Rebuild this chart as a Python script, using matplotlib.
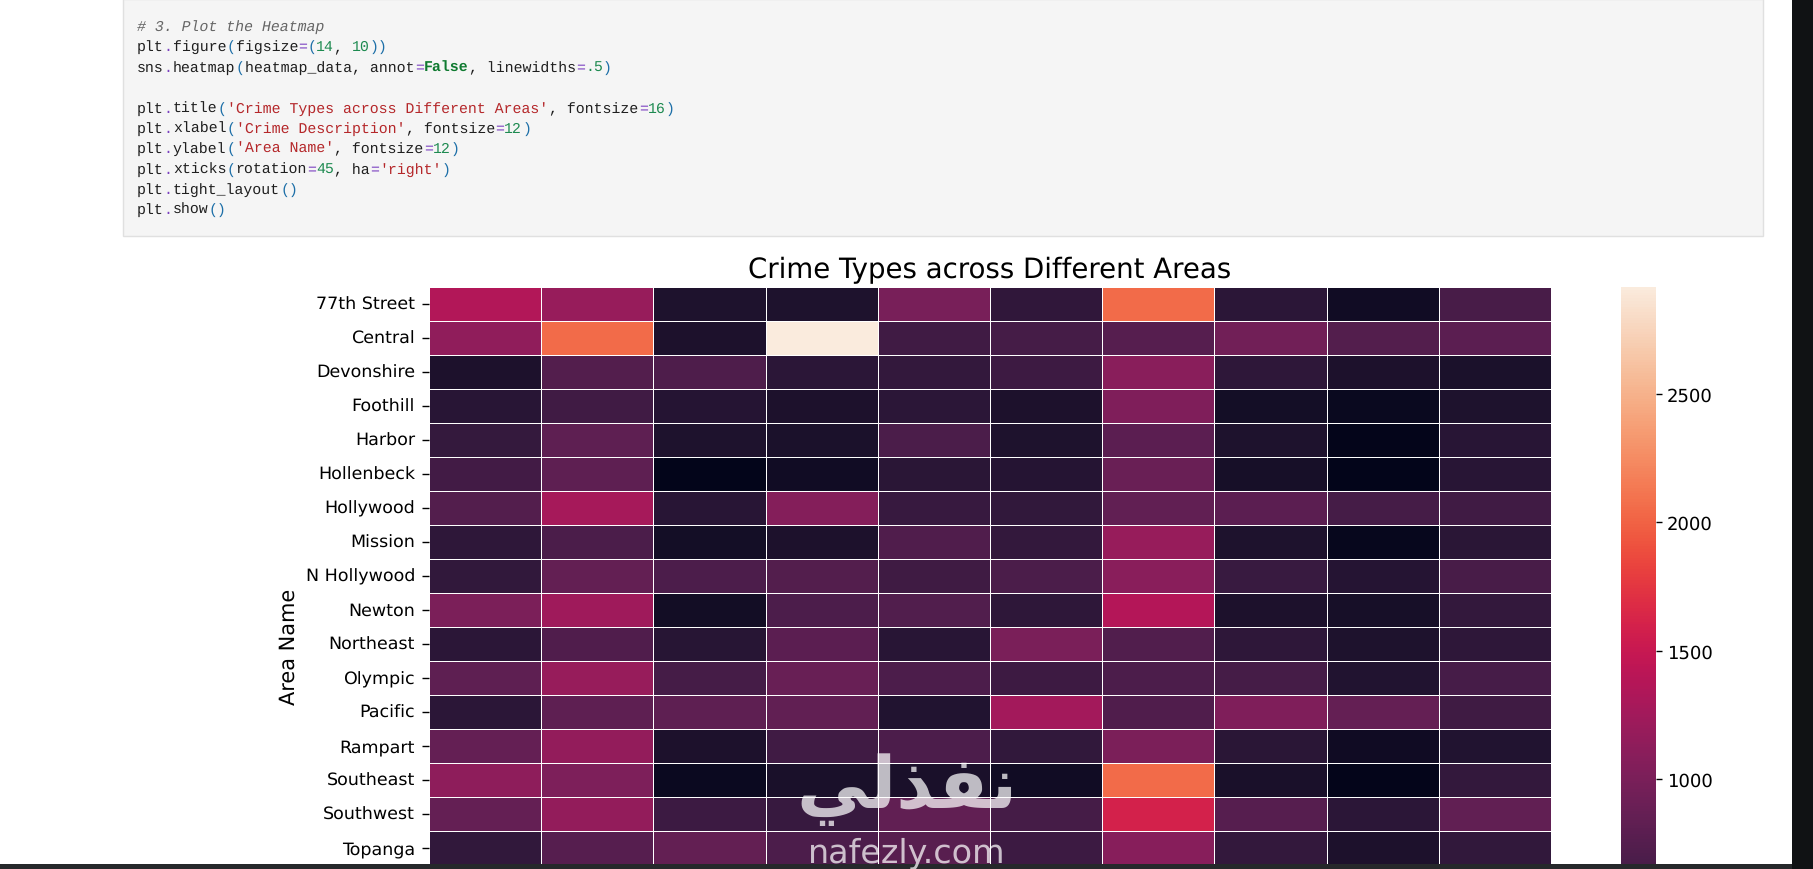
import matplotlib
matplotlib.use('Agg')
import matplotlib.pyplot as plt
from matplotlib.patches import Rectangle
import pandas as pd
import seaborn as sns

plt.rcParams['text.hinting'] = 'no_hinting'

W, H = 1813, 870

areas = ['77th Street', 'Central', 'Devonshire', 'Foothill', 'Harbor', 'Hollenbeck',
         'Hollywood', 'Mission', 'N Hollywood', 'Newton', 'Northeast', 'Olympic',
         'Pacific', 'Rampart', 'Southeast', 'Southwest', 'Topanga']

# values, columns have no visible labels (cropped)
r_77th = [1354, 1183, 360, 355, 985, 490, 2050, 454, 256, 661]
r_central = [1138, 2050, 346, 2918, 607, 634, 760, 940, 733, 787]
r_devonshire = [346, 733, 706, 454, 508, 589, 1098, 472, 346, 333]
r_foothill = [436, 607, 409, 346, 454, 346, 1035, 283, 207, 360]
r_harbor = [522, 810, 360, 333, 684, 360, 787, 360, 146, 432]
r_hollenbeck = [621, 810, 135, 256, 445, 409, 886, 297, 140, 432]
r_hollywood = [733, 1282, 432, 1062, 544, 495, 837, 796, 634, 607]
r_mission = [472, 684, 283, 346, 711, 508, 1183, 360, 184, 445]
r_nhollywood = [495, 846, 697, 733, 598, 684, 1098, 553, 409, 661]
r_newton = [1012, 1237, 270, 697, 724, 472, 1363, 346, 297, 508]
r_northeast = [454, 711, 423, 787, 432, 999, 724, 481, 360, 481]
r_olympic = [810, 1183, 634, 873, 697, 589, 697, 634, 382, 648]
r_pacific = [454, 810, 810, 837, 382, 1264, 711, 1035, 859, 598]
r_rampart = [859, 1156, 346, 607, 697, 495, 1012, 445, 247, 382]
r_southeast = [1129, 1021, 220, 319, 319, 256, 2050, 319, 145, 508]
r_southwest = [859, 1156, 571, 544, 837, 634, 1600, 760, 454, 837]
r_topanga = [495, 760, 846, 697, 770, 571, 1084, 508, 346, 495]

heatmap_data = pd.DataFrame(
    [r_77th, r_central, r_devonshire, r_foothill, r_harbor, r_hollenbeck, r_hollywood,
     r_mission, r_nhollywood, r_newton, r_northeast, r_olympic, r_pacific, r_rampart,
     r_southeast, r_southwest, r_topanga], index=areas)

BK, OP, NUM, STR, PAR, KW = '#1f1f1f', '#7a3fc0', '#1d8a50', '#b5272a', '#1d6fa8', '#0f7a30'
code_lines = [
    (27, [('# 3. Plot the Heatmap', '#666666')]),
    (47, [('plt', BK), ('.', OP), ('figure', BK), ('(', PAR), ('figsize', BK), ('=', OP), ('(', PAR),
          ('14', NUM), (', ', BK), ('10', NUM), ('))', PAR)]),
    (68, [('sns', BK), ('.', OP), ('heatmap', BK), ('(', PAR), ('heatmap_data, annot', BK), ('=', OP),
          ('False', KW), (', linewidths', BK), ('=', OP), ('.5', NUM), (')', PAR)]),
    (109, [('plt', BK), ('.', OP), ('title', BK), ('(', PAR), ("'Crime Types across Different Areas'", STR),
           (', fontsize', BK), ('=', OP), ('16', NUM), (')', PAR)]),
    (129, [('plt', BK), ('.', OP), ('xlabel', BK), ('(', PAR), ("'Crime Description'", STR),
           (', fontsize', BK), ('=', OP), ('12', NUM), (')', PAR)]),
    (149, [('plt', BK), ('.', OP), ('ylabel', BK), ('(', PAR), ("'Area Name'", STR),
           (', fontsize', BK), ('=', OP), ('12', NUM), (')', PAR)]),
    (170, [('plt', BK), ('.', OP), ('xticks', BK), ('(', PAR), ('rotation', BK), ('=', OP), ('45', NUM),
           (', ha', BK), ('=', OP), ("'right'", STR), (')', PAR)]),
    (190, [('plt', BK), ('.', OP), ('tight_layout', BK), ('()', PAR)]),
    (210, [('plt', BK), ('.', OP), ('show', BK), ('()', PAR)]),
]
cbar_ticks = [1000, 1500, 2000, 2500]


def fx(x):
    return x / W


def fy(y):
    return 1 - y / H


fig = plt.figure(figsize=(W / 100, H / 100), dpi=100)

# notebook cell
fig.add_artist(Rectangle((fx(123), fy(237)), fx(1763 - 123), 237 / H, transform=fig.transFigure,
                         fc='#f5f5f5', ec='#e0e0e0', lw=1))
char_w = 8.96
for y, toks in code_lines:
    x = 137
    for s, c in toks:
        italic = s.startswith('#')
        bold = s == 'False'
        fig.text(fx(x), fy(y), s, color=c, family='Liberation Mono', fontsize=10.75, va='center',
                 style='italic' if italic else 'normal', weight='bold' if bold else 'normal')
        x += len(s) * char_w

# heatmap, 17 rows are visible, the colorbar runs on past the crop
ax = fig.add_axes([fx(429), fy(866.5), fx(1551 - 429), (866.5 - 288) / H])
cax = fig.add_axes([fx(1621), fy(1002), fx(1656 - 1621), (1002 - 288) / H])
sns.heatmap(heatmap_data, annot=False, linewidths=.6, linecolor='white', vmin=133, vmax=2918,
            ax=ax, cbar_ax=cax, xticklabels=False, cbar_kws={'ticks': cbar_ticks})
ax.tick_params(axis='y', labelsize=12.6, rotation=0, length=5, width=1, pad=5)
ax.tick_params(axis='x', length=0)
ax.set_title('Crime Types across Different Areas', fontsize=19.9, pad=7)
ax.set_ylabel('Area Name', fontsize=15)
ax.yaxis.set_label_coords((299 - 429) / (1551 - 429), (866.5 - 647) / (866.5 - 288))
cax.tick_params(labelsize=13, length=4, width=1, pad=4)

# watermark
wm = '\ufef2\ufedf\ufeac\ufed4\ufee7'
fig.text(fx(907), fy(790), wm, color='white', alpha=0.72, fontsize=52,
         family='DejaVu Sans', weight='bold', ha='center', va='center', zorder=12)
fig.text(fx(907), fy(853), 'nafezly.com', color='white', alpha=0.72, fontsize=24,
         family='DejaVu Sans', ha='center', va='center', zorder=12)

# screen edges
fig.add_artist(Rectangle((0, 0), 1, 5 / H, transform=fig.transFigure, fc='#26282b', ec='none', zorder=10))
fig.add_artist(Rectangle((fx(1792), 0), fx(21), 1, transform=fig.transFigure, fc='#101214', ec='none', zorder=10))

plt.savefig('out.png', dpi=100)
